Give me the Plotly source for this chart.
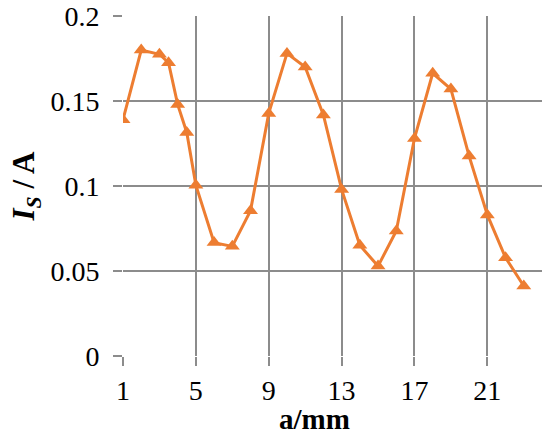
import plotly.graph_objects as go

# a position (mm) and measured current Is (A)
a_mm = [1, 2, 3, 3.5, 4, 4.5, 5, 6, 7, 8, 9, 10, 11, 12, 13, 14, 15, 16,
        17, 18, 19, 20, 21, 22, 23]
i_s = [0.139, 0.180, 0.1775, 0.1725, 0.148, 0.1315, 0.1005, 0.0667, 0.0645,
       0.0855, 0.1427, 0.178, 0.170, 0.1418, 0.098, 0.0651, 0.0529, 0.0735,
       0.128, 0.1663, 0.157, 0.1176, 0.083, 0.0578, 0.0412]

x_ticks = [1, 5, 9, 13, 17, 21]
y_ticks = [0, 0.05, 0.1, 0.15, 0.2]
y_labels = ['0', '0.05', '0.1', '0.15', '0.2']

ORANGE = '#ED7D31'
GRID = '#8C8C8C'
FONT = 'Liberation Serif'

fig = go.Figure()
fig.add_trace(go.Scatter(
    x=a_mm, y=i_s,
    mode='lines+markers',
    line=dict(color=ORANGE, width=3),
    marker=dict(symbol='triangle-up', size=13, color=ORANGE),
    showlegend=False,
))

fig.update_layout(
    width=550, height=432,
    margin=dict(l=123, r=8, t=16, b=76),
    paper_bgcolor='white',
    plot_bgcolor='white',
    font=dict(family=FONT, color='black', size=28),
)

fig.update_xaxes(
    range=[1, 24],
    tickvals=x_ticks,
    ticktext=[str(v) for v in x_ticks],
    showgrid=True, gridcolor=GRID, gridwidth=1.5,
    zeroline=False, showline=False,
    ticks='outside', ticklen=9, tickwidth=1.5, tickcolor=GRID,
    tickfont=dict(family=FONT, size=28),
    automargin=False,
)
fig.update_yaxes(
    range=[0, 0.2],
    tickvals=y_ticks,
    ticktext=y_labels,
    showgrid=True, gridcolor=GRID, gridwidth=1.5,
    zeroline=False, showline=False,
    ticks='outside', ticklen=9, tickwidth=1.5, tickcolor=GRID,
    tickfont=dict(family=FONT, size=28),
    ticklabelstandoff=8,
    automargin=False,
    title=dict(text='<b><i>I</i><sub><i>S</i></sub> / A</b>',
               font=dict(family=FONT, size=31), standoff=6),
)

# x title sits a little left of the plot centre, as in the original
fig.add_annotation(
    text='<b>a/mm</b>', xref='paper', yref='paper',
    x=0.458, y=-0.131, xanchor='center', yanchor='top',
    showarrow=False, font=dict(family=FONT, size=29, color='black'),
)

# drop the default page margin so the figure sits at the window's corner
fig.write_html('out.html', config={'displayModeBar': False},
               post_script="document.body.style.margin='0';")
